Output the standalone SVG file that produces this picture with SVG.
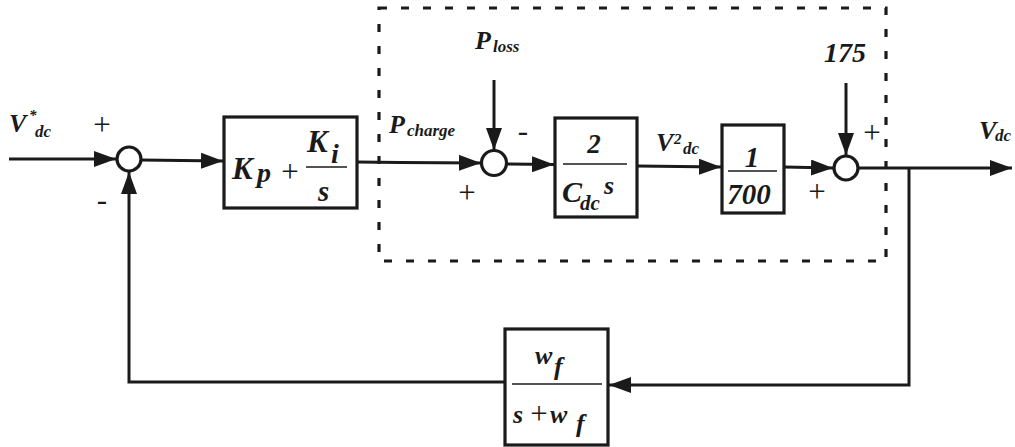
<svg xmlns="http://www.w3.org/2000/svg" width="1015" height="447" viewBox="0 0 1015 447" font-family="'Liberation Serif', 'DejaVu Serif', serif">
<style>
.ln{fill:none;stroke:#1a1a1a;stroke-width:3}
.arr{fill:none;stroke:#1a1a1a;stroke-width:3;marker-end:url(#ah)}
.box{fill:#fff;stroke:#1a1a1a;stroke-width:3.2}
.sum{fill:#fff;stroke:#1a1a1a;stroke-width:3.2}
.frac{stroke:#1a1a1a;stroke-width:1.6}
.dash{fill:none;stroke:#1a1a1a;stroke-width:3.2;stroke-dasharray:8 14}
.t{font-family:'Liberation Serif','DejaVu Serif',serif;font-weight:bold;font-style:italic;fill:#1a1a1a}
.sg{font-family:'Liberation Serif','DejaVu Serif',serif;font-style:normal;font-weight:normal;text-anchor:middle;font-size:31px;fill:#1a1a1a}
.c{text-anchor:middle}
</style>
<defs>
<marker id="ah" markerUnits="userSpaceOnUse" markerWidth="22" markerHeight="16" refX="22" refY="8" orient="auto">
<path d="M0,0 L22,8 L0,16 z" fill="#1a1a1a"/>
</marker>
</defs>
<rect x="0" y="0" width="1015" height="447" fill="#fff"/>

<g id="plant-boundary">
<rect class="dash" x="379" y="8" width="507" height="253"/>
</g>

<g id="connectors">
<line class="arr" x1="9" y1="159" x2="116" y2="159"/>
<line class="arr" x1="141" y1="160" x2="223" y2="161"/>
<line class="ln" x1="357" y1="162" x2="400" y2="162.5"/>
<line class="arr" x1="400" y1="162.5" x2="481" y2="163"/>
<line class="arr" x1="494" y1="80" x2="494" y2="150"/>
<line class="arr" x1="507" y1="164" x2="554" y2="164.5"/>
<line class="arr" x1="637" y1="166" x2="721" y2="167"/>
<line class="arr" x1="784" y1="167" x2="833" y2="168"/>
<line class="arr" x1="846" y1="83" x2="846" y2="155"/>
<line class="arr" x1="859" y1="168" x2="1012" y2="168"/>
<polyline class="ln" points="909,168 909,385 630,385"/>
<line class="arr" x1="630" y1="385" x2="609" y2="385"/>
<polyline class="ln" points="505,382 129,382 129,200"/>
<line class="arr" x1="129" y1="200" x2="129" y2="172"/>
</g>

<g id="input-label">
<text class="t" x="9" y="132" font-size="26">V</text>
<text class="t" x="29" y="120" font-size="15">*</text>
<text class="t" x="35" y="137" font-size="17">dc</text>
</g>

<g id="sum1">
<circle class="sum" cx="129" cy="159" r="12"/>
<text class="sg" x="102" y="135">+</text>
<text class="sg" x="102" y="210">-</text>
</g>

<g id="pi-controller">
<rect class="box" x="224" y="117" width="133" height="91"/>
<text class="t" x="232" y="179" font-size="31">K</text>
<text class="t" x="257" y="182" font-size="28">p</text>
<text class="sg" x="290" y="182">+</text>
<line class="frac" x1="306" y1="167" x2="347" y2="167"/>
<text class="t" x="307" y="152" font-size="31">K</text>
<text class="t" x="331" y="163" font-size="28">i</text>
<text class="t" x="318" y="201" font-size="29">s</text>
</g>

<g id="p-charge-label">
<text class="t" x="389" y="133" font-size="26">P</text>
<text class="t" x="407" y="136" font-size="17">charge</text>
</g>

<g id="p-loss-label">
<text class="t" x="475" y="49" font-size="26">P</text>
<text class="t" x="493" y="52" font-size="17">loss</text>
</g>

<g id="sum2">
<circle class="sum" cx="494" cy="163" r="12.5"/>
<text class="sg" x="523" y="141">-</text>
<text class="sg" x="467" y="203">+</text>
</g>

<g id="capacitor">
<rect class="box" x="555" y="118" width="82" height="99"/>
<text class="t c" x="594" y="153" font-size="27">2</text>
<line class="frac" x1="563" y1="164" x2="627" y2="164"/>
<text class="t" x="562" y="202" font-size="30">C</text>
<text class="t" x="580" y="210" font-size="21">dc</text>
<text class="t" x="604" y="194" font-size="26">s</text>
</g>

<g id="v2-label">
<text class="t" x="656" y="151" font-size="26">V</text>
<text class="t" x="674" y="144" font-size="15">2</text>
<text class="t" x="683" y="154" font-size="17">dc</text>
</g>

<g id="scale-block">
<rect class="box" x="722" y="125" width="62" height="88"/>
<text class="t c" x="752" y="167" font-size="29">1</text>
<line class="frac" x1="728" y1="171" x2="777" y2="171"/>
<text class="t c" x="749" y="204" font-size="29">700</text>
</g>

<g id="offset-label">
<text class="t c" x="845" y="62" font-size="28">175</text>
</g>

<g id="sum3">
<circle class="sum" cx="846" cy="168" r="12"/>
<text class="sg" x="872" y="143">+</text>
<text class="sg" x="817" y="202">+</text>
</g>

<g id="output-label">
<text class="t" x="979" y="139" font-size="26">V</text>
<text class="t" x="995" y="141" font-size="17">dc</text>
</g>

<g id="filter">
<rect class="box" x="505" y="329" width="103" height="116"/>
<text class="t" x="535" y="364" font-size="26">w</text>
<text class="t" x="554" y="375" font-size="26">f</text>
<line class="frac" x1="512" y1="384" x2="602" y2="384"/>
<text class="t" x="513" y="423" font-size="26">s</text>
<text class="sg" x="539" y="424" font-size="24">+</text>
<text class="t" x="550" y="423" font-size="26">w</text>
<text class="t" x="576" y="432" font-size="26">f</text>
</g>
</svg>
